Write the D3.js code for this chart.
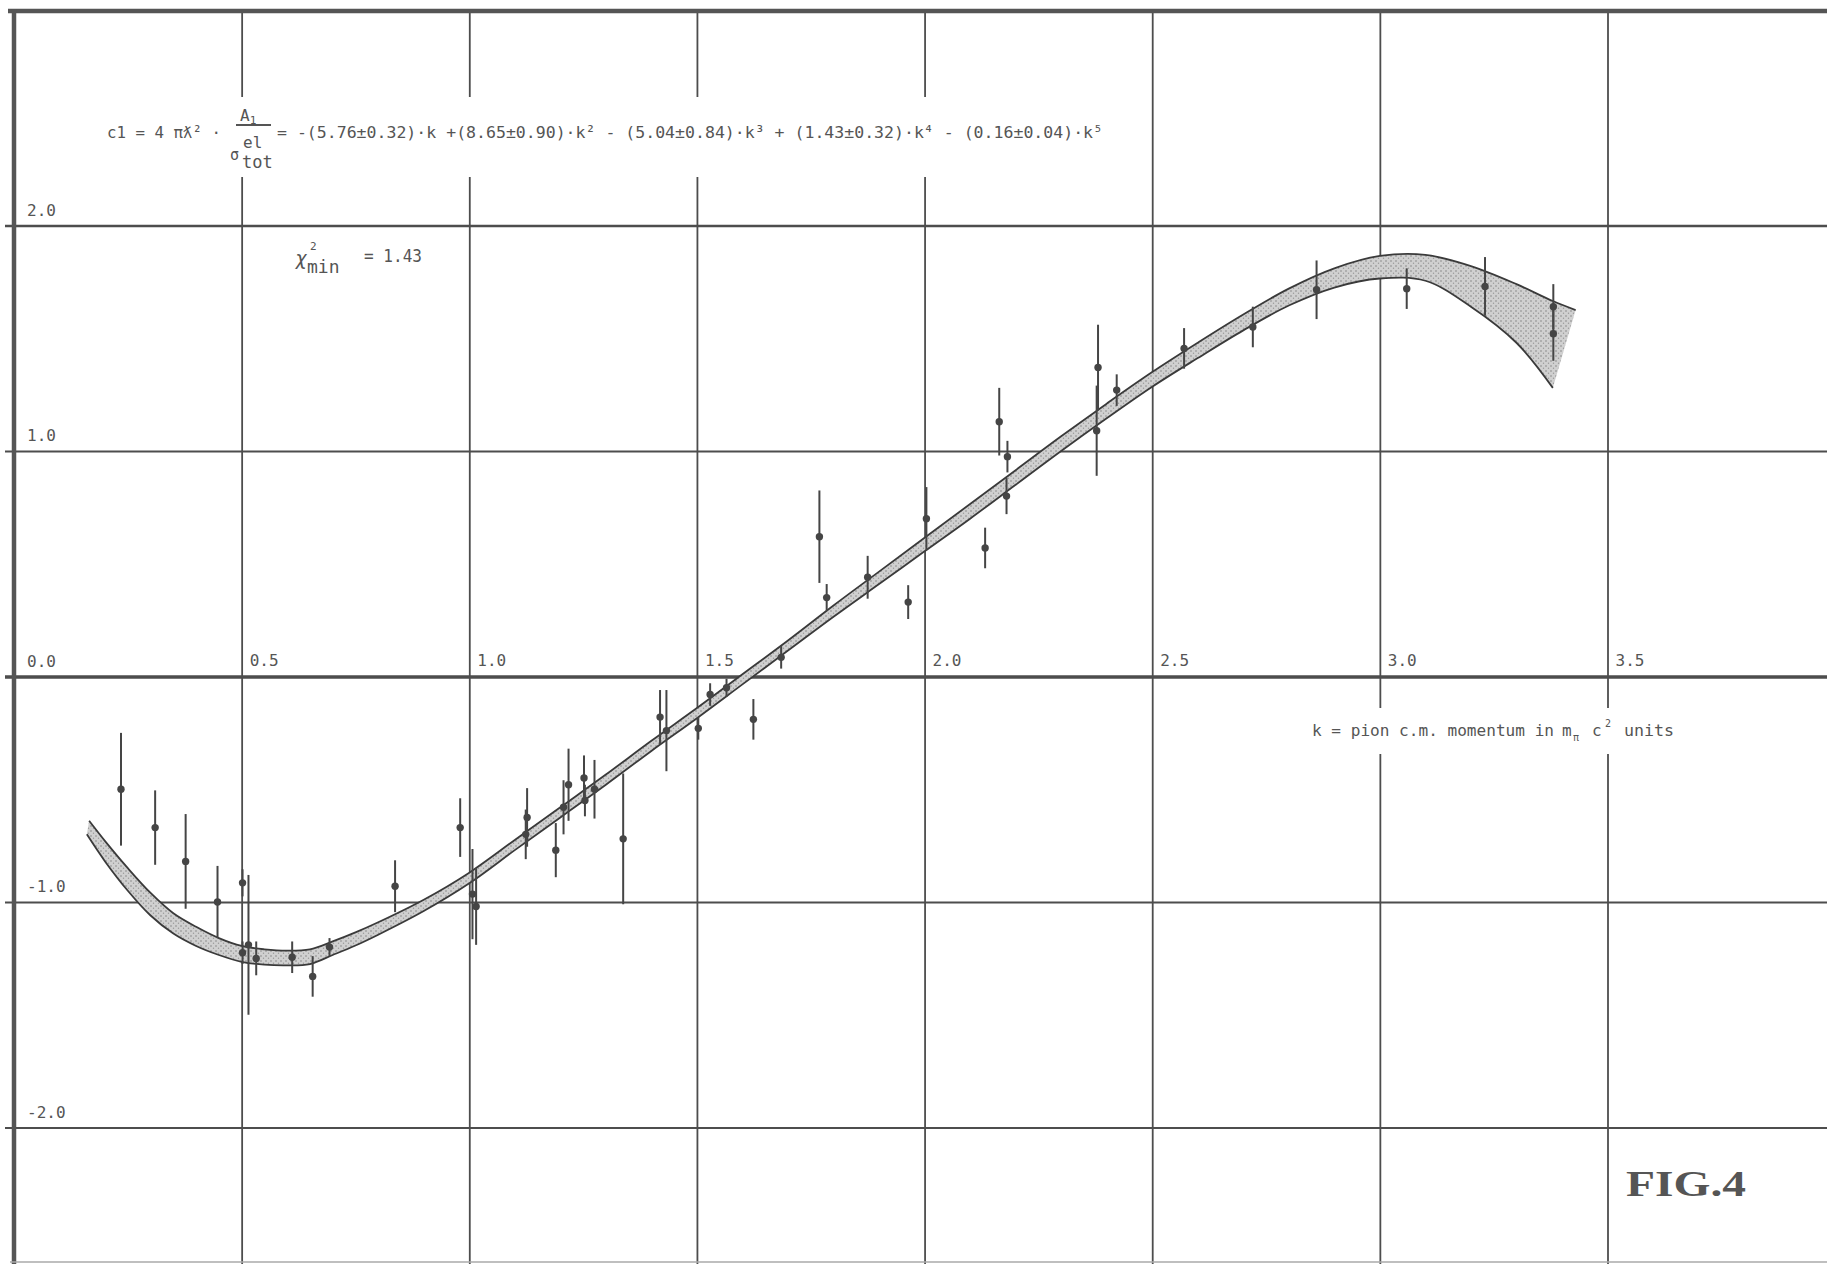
<!DOCTYPE html>
<html>
<head>
<meta charset="utf-8">
<script src="https://cdn.jsdelivr.net/npm/d3@7"></script>
<style>
  html, body { margin: 0; padding: 0; background: #ffffff; }
  svg { display: block; }
  text { font-family: "DejaVu Sans Mono", "Liberation Mono", monospace; fill: #555; }
</style>
</head>
<body>
<svg id="chart" width="1827" height="1264"></svg>
<script>
// ---------------- data ----------------
const xGrid = [0.5, 1.0, 1.5, 2.0, 2.5, 3.0, 3.5];
const xTickLabels = ["0.5", "1.0", "1.5", "2.0", "2.5", "3.0", "3.5"];
const yGrid = [2, 1, 0, -1, -2];
const yTickLabels = ["2.0", "1.0", "0.0", "-1.0", "-2.0"];

// measured points: k, c1, error
const pointK = [0.235, 0.310, 0.377, 0.447, 0.502, 0.502, 0.515, 0.532, 0.611, 0.656,
                0.693, 0.837, 0.980, 1.007, 1.015, 1.127, 1.124, 1.190, 1.207, 1.218,
                1.252, 1.254, 1.275, 1.338, 1.419, 1.433, 1.503, 1.529, 1.565, 1.624,
                1.685, 1.769, 1.785, 1.875, 1.964, 2.004, 2.133, 2.164, 2.182, 2.180,
                2.381, 2.378, 2.422, 2.570, 2.721, 2.861, 3.059, 3.231, 3.381, 3.381];
const pointV = [-0.50, -0.67, -0.82, -1.00, -0.915, -1.225, -1.19, -1.25, -1.245, -1.33,
                -1.20, -0.93, -0.67, -0.965, -1.02, -0.625, -0.70, -0.77, -0.58, -0.48,
                -0.45, -0.55, -0.50, -0.72, -0.18, -0.24, -0.23, -0.08, -0.05, -0.19,
                0.085, 0.62, 0.35, 0.44, 0.33, 0.70, 0.57, 1.13, 0.975, 0.80,
                1.37, 1.09, 1.27, 1.455, 1.55, 1.715, 1.72, 1.73, 1.64, 1.52];
const pointErr = [0.25, 0.165, 0.21, 0.16, 0.06, 0.05, 0.31, 0.075, 0.07, 0.09,
                  0.04, 0.115, 0.13, 0.20, 0.17, 0.13, 0.11, 0.12, 0.12, 0.16,
                  0.10, 0.07, 0.13, 0.29, 0.12, 0.18, 0.05, 0.05, 0.04, 0.09,
                  0.05, 0.205, 0.06, 0.095, 0.075, 0.14, 0.09, 0.15, 0.07, 0.08,
                  0.19, 0.20, 0.07, 0.09, 0.09, 0.13, 0.09, 0.13, 0.10, 0.12];

// fitted error band: upper and lower boundary curves
const bandUpperK = [0.165, 0.20, 0.25, 0.30, 0.35, 0.40, 0.45, 0.50, 0.55, 0.60, 0.65, 0.70, 0.75, 0.80, 0.90,
                    1.00, 1.10, 1.20, 1.30, 1.40, 1.50, 1.60, 1.70, 1.80, 1.90, 2.00, 2.10, 2.20, 2.30, 2.40,
                    2.50, 2.60, 2.70, 2.80, 2.90, 3.00, 3.10, 3.20, 3.30, 3.38, 3.43];
const bandUpperV = [-0.64, -0.73, -0.85, -0.96, -1.05, -1.11, -1.16, -1.195, -1.21, -1.216, -1.21, -1.175, -1.135, -1.09, -0.99,
                    -0.87, -0.725, -0.58, -0.435, -0.285, -0.14, 0.01, 0.16, 0.315, 0.465, 0.615, 0.765, 0.915, 1.065, 1.21,
                    1.35, 1.48, 1.605, 1.72, 1.81, 1.865, 1.87, 1.82, 1.74, 1.665, 1.625];
const bandLowerK = [0.16, 0.20, 0.25, 0.30, 0.35, 0.40, 0.45, 0.50, 0.55, 0.60, 0.65, 0.70, 0.75, 0.80, 0.90,
                    1.00, 1.10, 1.20, 1.30, 1.40, 1.50, 1.60, 1.70, 1.80, 1.90, 2.00, 2.10, 2.20, 2.30, 2.40,
                    2.50, 2.60, 2.70, 2.80, 2.90, 3.00, 3.10, 3.20, 3.30, 3.38];
const bandLowerV = [-0.70, -0.82, -0.95, -1.06, -1.14, -1.195, -1.235, -1.265, -1.278, -1.281, -1.275, -1.235, -1.193, -1.145, -1.04,
                    -0.917, -0.77, -0.625, -0.48, -0.33, -0.185, -0.035, 0.115, 0.265, 0.41, 0.555, 0.70, 0.85, 1.00, 1.145,
                    1.285, 1.412, 1.535, 1.645, 1.725, 1.765, 1.755, 1.64, 1.48, 1.28];

const formulaLead = "c1 = 4 \u03C0\u019B\u00B2 \u00B7";
const formulaRight = "= -(5.76\u00B10.32)\u00B7k +(8.65\u00B10.90)\u00B7k\u00B2 - (5.04\u00B10.84)\u00B7k\u00B3 + (1.43\u00B10.32)\u00B7k\u2074 - (0.16\u00B10.04)\u00B7k\u2075";

// ---------------- drawing ----------------
const W = 1827, H = 1264;
const svg = d3.select("#chart");
svg.append("rect").attr("width", W).attr("height", H).attr("fill", "#ffffff");

const x = d3.scaleLinear().domain([0, 3.5]).range([14, 1607.5]);
const y = d3.scaleLinear().domain([-2, 2]).range([1127.5, 225.5]);
const topY = 11;

const defs = svg.append("defs");
const pat = defs.append("pattern").attr("id", "stip").attr("width", 5).attr("height", 5)
  .attr("patternUnits", "userSpaceOnUse");
pat.append("rect").attr("width", 5).attr("height", 5).attr("fill", "#d0d0d0");
pat.append("circle").attr("cx", 1).attr("cy", 1).attr("r", 0.8).attr("fill", "#858585");
pat.append("circle").attr("cx", 3.5).attr("cy", 3.2).attr("r", 0.7).attr("fill", "#999");

// vertical grid lines via axis
const gx = svg.append("g").attr("transform", `translate(0,${H})`)
  .call(d3.axisBottom(x).tickValues(xGrid).tickSize(-(H - topY)).tickFormat(""));
gx.select(".domain").remove();
gx.selectAll(".tick line").attr("stroke", "#4d4d4d").attr("stroke-width", 1.8);

// horizontal grid lines via axis
const yWidths = {"2": 2.6, "1": 2.0, "0": 3.4, "-1": 2.2, "-2": 2.0};
const gy = svg.append("g").attr("transform", "translate(5,0)")
  .call(d3.axisLeft(y).tickValues(yGrid).tickSize(-(W - 5)).tickFormat(""));
gy.select(".domain").remove();
gy.selectAll(".tick line").attr("stroke", "#4d4d4d")
  .attr("stroke-width", d => yWidths[String(d)]);

// frame: top, left (k = 0), faint bottom
svg.append("line").attr("x1", 8).attr("x2", W).attr("y1", topY).attr("y2", topY)
  .attr("stroke", "#555").attr("stroke-width", 4.5);
svg.append("line").attr("x1", x(0)).attr("x2", x(0)).attr("y1", topY - 2).attr("y2", H)
  .attr("stroke", "#555").attr("stroke-width", 4.5);
svg.append("line").attr("x1", 10).attr("x2", W).attr("y1", 1262).attr("y2", 1262)
  .attr("stroke", "#aaa").attr("stroke-width", 1.5);

// knock-outs where the grid is interrupted by text
svg.append("rect").attr("x", 100).attr("y", 97).attr("width", 1010).attr("height", 80).attr("fill", "#fff");
svg.append("rect").attr("x", 1300).attr("y", 708).attr("width", 385).attr("height", 46).attr("fill", "#fff");

// tick labels
svg.append("g").selectAll("text").data(yGrid).join("text")
  .attr("x", 27).attr("y", d => y(d) - 10)
  .attr("font-size", 16).text((d, i) => yTickLabels[i]);
svg.append("g").selectAll("text").data(xGrid).join("text")
  .attr("x", d => x(d) + 8).attr("y", y(0) - 11)
  .attr("font-size", 16).text((d, i) => xTickLabels[i]);

// error band
const lineGen = d3.line().x(d => x(d[0])).y(d => y(d[1])).curve(d3.curveCatmullRom.alpha(0.5));
const upperPts = bandUpperK.map((k, i) => [k, bandUpperV[i]]);
const lowerPts = bandLowerK.map((k, i) => [k, bandLowerV[i]]);
const fillPath = lineGen(upperPts) + lineGen(lowerPts.slice().reverse()).replace(/^M/, "L") + "Z";
svg.append("path").attr("d", fillPath).attr("fill", "url(#stip)").attr("stroke", "none");
svg.append("path").attr("d", lineGen(upperPts)).attr("fill", "none")
  .attr("stroke", "#3a3a3a").attr("stroke-width", 1.8);
svg.append("path").attr("d", lineGen(lowerPts)).attr("fill", "none")
  .attr("stroke", "#3a3a3a").attr("stroke-width", 1.8);

// data points with error bars
const pts = pointK.map((k, i) => ({k, v: pointV[i], e: pointErr[i]}));
const gp = svg.append("g");
gp.selectAll("line").data(pts).join("line")
  .attr("x1", d => x(d.k)).attr("x2", d => x(d.k))
  .attr("y1", d => y(d.v + d.e)).attr("y2", d => y(d.v - d.e))
  .attr("stroke", "#454545").attr("stroke-width", 2);
gp.selectAll("circle").data(pts).join("circle")
  .attr("cx", d => x(d.k)).attr("cy", d => y(d.v)).attr("r", 3.7)
  .attr("fill", "#454545");

// formula
svg.append("text").attr("x", 107).attr("y", 138).attr("font-size", 16.5)
  .attr("textLength", 114).attr("lengthAdjust", "spacingAndGlyphs").text(formulaLead);
const fr = svg.append("g");
fr.append("text").attr("x", 240).attr("y", 121).attr("font-size", 16)
  .text("A").append("tspan").attr("font-size", 11).attr("dy", 3).text("1");
fr.append("line").attr("x1", 236).attr("x2", 271).attr("y1", 125).attr("y2", 125)
  .attr("stroke", "#555").attr("stroke-width", 2);
fr.append("text").attr("x", 243).attr("y", 148).attr("font-size", 16).text("el");
fr.append("text").attr("x", 230).attr("y", 160).attr("font-size", 15).text("\u03C3");
fr.append("text").attr("x", 242).attr("y", 168).attr("font-size", 17).text("tot");
svg.append("text").attr("x", 277).attr("y", 138).attr("font-size", 16.5)
  .attr("textLength", 826).attr("lengthAdjust", "spacingAndGlyphs").text(formulaRight);

// chi-square
const chi = svg.append("g");
chi.append("text").attr("x", 295).attr("y", 265).attr("font-size", 20).attr("font-style", "italic").text("\u03C7");
chi.append("text").attr("x", 310).attr("y", 250).attr("font-size", 11).text("2");
chi.append("text").attr("x", 307).attr("y", 273).attr("font-size", 18).text("min");
chi.append("text").attr("x", 364).attr("y", 262).attr("font-size", 17.5)
  .attr("textLength", 58).attr("lengthAdjust", "spacingAndGlyphs").text("= 1.43");

// x-axis label
const xl = svg.append("g");
xl.append("text").attr("x", 1312).attr("y", 736).attr("font-size", 16)
  .attr("textLength", 242).attr("lengthAdjust", "spacingAndGlyphs").text("k = pion c.m. momentum in");
xl.append("text").attr("x", 1562).attr("y", 736).attr("font-size", 16).text("m");
xl.append("text").attr("x", 1573).attr("y", 741).attr("font-size", 10).text("\u03C0");
xl.append("text").attr("x", 1592).attr("y", 736).attr("font-size", 16).text("c");
xl.append("text").attr("x", 1605).attr("y", 727).attr("font-size", 10).text("2");
xl.append("text").attr("x", 1624).attr("y", 736).attr("font-size", 16)
  .attr("textLength", 50).attr("lengthAdjust", "spacingAndGlyphs").text("units");

// figure tag
svg.append("text").attr("x", 1626).attr("y", 1196)
  .style("font-family", "'Liberation Serif', 'DejaVu Serif', serif")
  .attr("font-weight", "bold").attr("font-size", 35)
  .attr("textLength", 120).attr("lengthAdjust", "spacingAndGlyphs")
  .text("FIG.4");
</script>
</body>
</html>
